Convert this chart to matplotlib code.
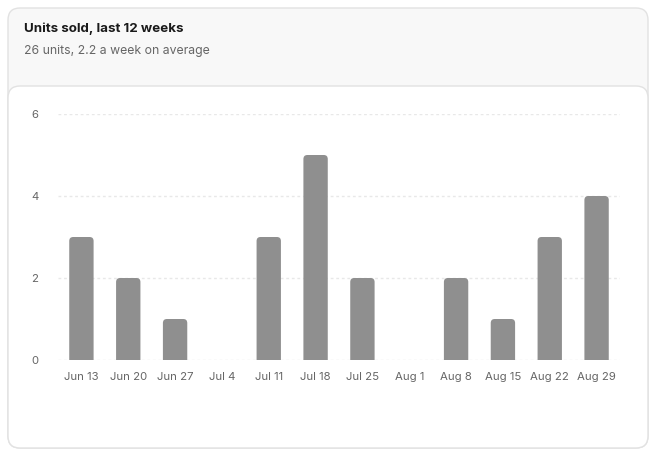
import matplotlib.pyplot as plt
from matplotlib.patches import FancyBboxPatch

weeks = ["Jun 13", "Jun 20", "Jun 27", "Jul 4", "Jul 11", "Jul 18",
         "Jul 25", "Aug 1", "Aug 8", "Aug 15", "Aug 22", "Aug 29"]
units = [3, 2, 1, 0, 3, 5, 2, 0, 2, 1, 3, 4]
yticks = [0, 2, 4, 6]

title = "Units sold, last 12 weeks"
subtitle = "26 units, 2.2 a week on average"

plt.rcParams["font.family"] = ["Inter", "DejaVu Sans"]

W, H = 656, 457
fig = plt.figure(figsize=(W / 100, H / 100), dpi=100)
fig.patch.set_facecolor("white")


def card(x0, y0, x1, y1, face, r=12):
    # pixel coords from top-left -> inches from bottom-left
    p = FancyBboxPatch((x0 / 100, (H - y1) / 100), (x1 - x0) / 100, (y1 - y0) / 100,
                       boxstyle=f"round,pad=0,rounding_size={r / 100}",
                       transform=fig.dpi_scale_trans, facecolor=face,
                       edgecolor="#e2e2e2", linewidth=1, zorder=-2)
    fig.patches.append(p)


card(8, 8, 648, 448, "#f8f8f8")
card(8, 86, 648, 448, "white")

fig.text(24 / W, 1 - 29 / H, title, fontsize=9.6, fontweight="bold",
         color="#1a1a1a", va="center", ha="left")
fig.text(24 / W, 1 - 51 / H, subtitle, fontsize=8.8, color="#666666",
         va="center", ha="left")

ax = fig.add_axes([58 / W, (H - 360) / H, (620 - 58) / W, (360 - 114) / H])
ax.set_facecolor("none")
ax.set_zorder(2)

x = list(range(len(weeks)))
bars = ax.bar(x, units, width=0.52, color="#8f8f8f")

# swap plain bars for top-rounded ones (bottom is clipped below 0)
px_x = 12 / 562  # data units per px in x
px_y = 6 / 246
for b in bars:
    h = b.get_height()
    b.set_visible(False)
    if h <= 0:
        continue
    rr = 4 * px_x
    fb = FancyBboxPatch((b.get_x(), -0.3), b.get_width(), h + 0.3,
                        boxstyle=f"round,pad=0,rounding_size={rr}",
                        mutation_aspect=px_y / px_x,
                        facecolor="#8f8f8f", edgecolor="none", zorder=3)
    ax.add_patch(fb)

ax.set_xlim(-0.5, len(weeks) - 0.5)
ax.set_ylim(0, 6)
ax.set_yticks(yticks)
ax.set_xticks(x)
ax.set_xticklabels(weeks)
ax.tick_params(axis="both", length=0, labelsize=8.2, colors="#666666")
ax.tick_params(axis="y", pad=14)
ax.tick_params(axis="x", pad=9)
for s in ax.spines.values():
    s.set_visible(False)
ax.grid(axis="y", color="#e8e8e8", linestyle=(0, (2, 2)), linewidth=1)
ax.set_axisbelow(True)

fig.savefig("out.png", dpi=100)
